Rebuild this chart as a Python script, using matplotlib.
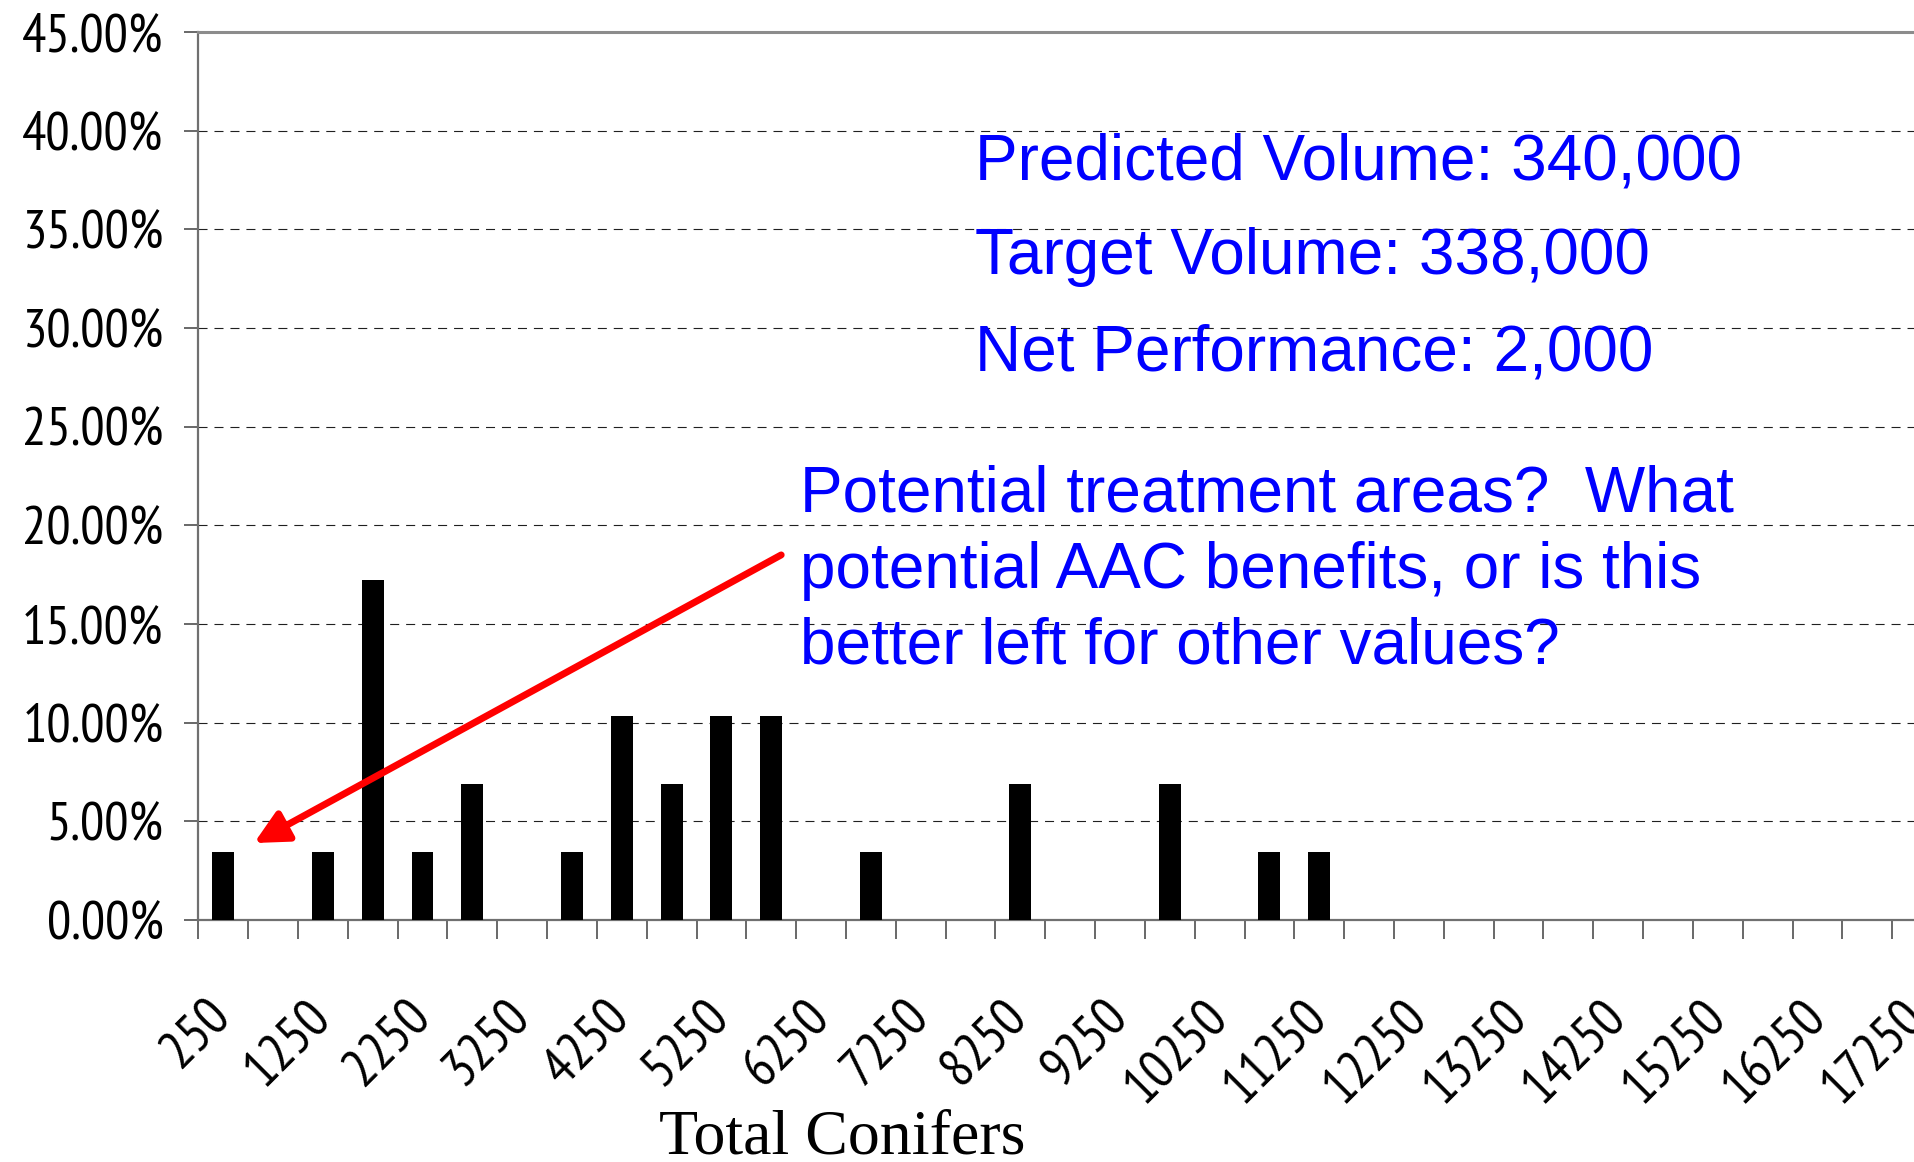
import matplotlib
matplotlib.use('Agg')
import matplotlib.pyplot as plt
from matplotlib.ticker import FixedLocator, FuncFormatter, NullFormatter

plt.rcParams['lines.scale_dashes'] = False

# histogram bins (Total Conifers) and share of stands in each bin, %
bins = [250, 750, 1250, 1750, 2250, 2750, 3250, 3750, 4250, 4750,
        5250, 5750, 6250, 6750, 7250, 7750, 8250, 8750, 9250, 9750,
        10250, 10750, 11250, 11750, 12250, 12750, 13250, 13750, 14250, 14750,
        15250, 15750, 16250, 16750, 17250, 17750]
share = [3.45, 0, 3.45, 17.24, 3.45, 6.90, 0, 3.45, 10.34, 6.90,
         10.34, 10.34, 0, 3.45, 0, 0, 6.90, 0, 0, 6.90,
         0, 3.45, 3.45, 0, 0, 0, 0, 0, 0, 0,
         0, 0, 0, 0, 0, 0]

volume_lines = ['Predicted Volume: 340,000',
                'Target Volume: 338,000',
                'Net Performance: 2,000']
note_lines = ['Potential treatment areas?  What',
              'potential AAC benefits, or is this',
              'better left for other values?']

narrow = ['PT Sans Narrow', 'DejaVu Sans']
blue = '#0000FF'

fig = plt.figure(figsize=(19.15, 11.62), dpi=100)
W, H = 1915.0, 1162.0
x0, step, ytop, ybot = 198.3, 49.82, 32.0, 920.0
ax = fig.add_axes([x0 / W, 1 - ybot / H, len(bins) * step / W, (ybot - ytop) / H])

pos = list(range(len(bins)))
ax.bar(pos, share, width=0.44, color='black', zorder=3)

ax.set_xlim(-0.5, len(bins) - 0.5)
ax.set_ylim(0, 45)
ax.set_axisbelow(True)

# y axis
ax.set_yticks(range(0, 50, 5))
ax.yaxis.set_major_formatter(FuncFormatter(lambda v, p: '%.2f%%' % v))
ax.tick_params(axis='y', direction='out', length=10, width=1.1, color='#404040', pad=15)
for t in ax.get_yticklabels():
    t.set_family(narrow)
    t.set_fontsize(39)
ax.yaxis.grid(True, color='#202020', linewidth=0.8, linestyle=(0, (6.5, 5)))

# x axis: tick marks on bin edges, labels on every other bin centre
ax.xaxis.set_major_locator(FixedLocator([p - 0.5 for p in pos] + [len(bins) - 0.5]))
ax.xaxis.set_major_formatter(NullFormatter())
ax.xaxis.set_minor_locator(FixedLocator(pos[::2]))
ax.set_xticklabels([str(b) for b in bins[::2]], minor=True)
ax.tick_params(axis='x', which='major', direction='out', length=14, width=1.1, color='#404040')
ax.tick_params(axis='x', which='minor', length=0, pad=64)
for t in ax.get_xticklabels(minor=True):
    t.set_family(narrow)
    t.set_fontsize(39)
    t.set_rotation(45)
    t.set_rotation_mode('anchor')
    t.set_ha('right')
    t.set_va('center')

for s in ['left', 'bottom']:
    ax.spines[s].set_color('#707070')
    ax.spines[s].set_linewidth(1.6)
ax.spines['top'].set_color('#8c8c8c')
ax.spines['top'].set_linewidth(2.2)
ax.spines['right'].set_visible(False)

# text boxes
for line, yb in zip(volume_lines, [37.55, 32.74, 27.87]):
    ax.text(15.09, yb, line, color=blue, fontsize=46,
            family='Liberation Sans', va='baseline', ha='left', zorder=5)
for line, yb in zip(note_lines, [20.68, 16.82, 13.02]):
    ax.text(11.58, yb, line, color=blue, fontsize=46,
            family='Liberation Sans', va='baseline', ha='left', zorder=5)

ax.annotate('', xy=(0.62, 3.9), xytext=(11.2, 18.5),
            arrowprops=dict(arrowstyle='-|>,head_length=1.0,head_width=0.5',
                            color='red', lw=5, mutation_scale=20,
                            shrinkA=0, shrinkB=0), zorder=6)

fig.text(842 / W, 1 - 1153 / H, 'Total Conifers', family='Liberation Serif',
         fontsize=46, ha='center', va='baseline')

fig.savefig('out.png', dpi=100)
